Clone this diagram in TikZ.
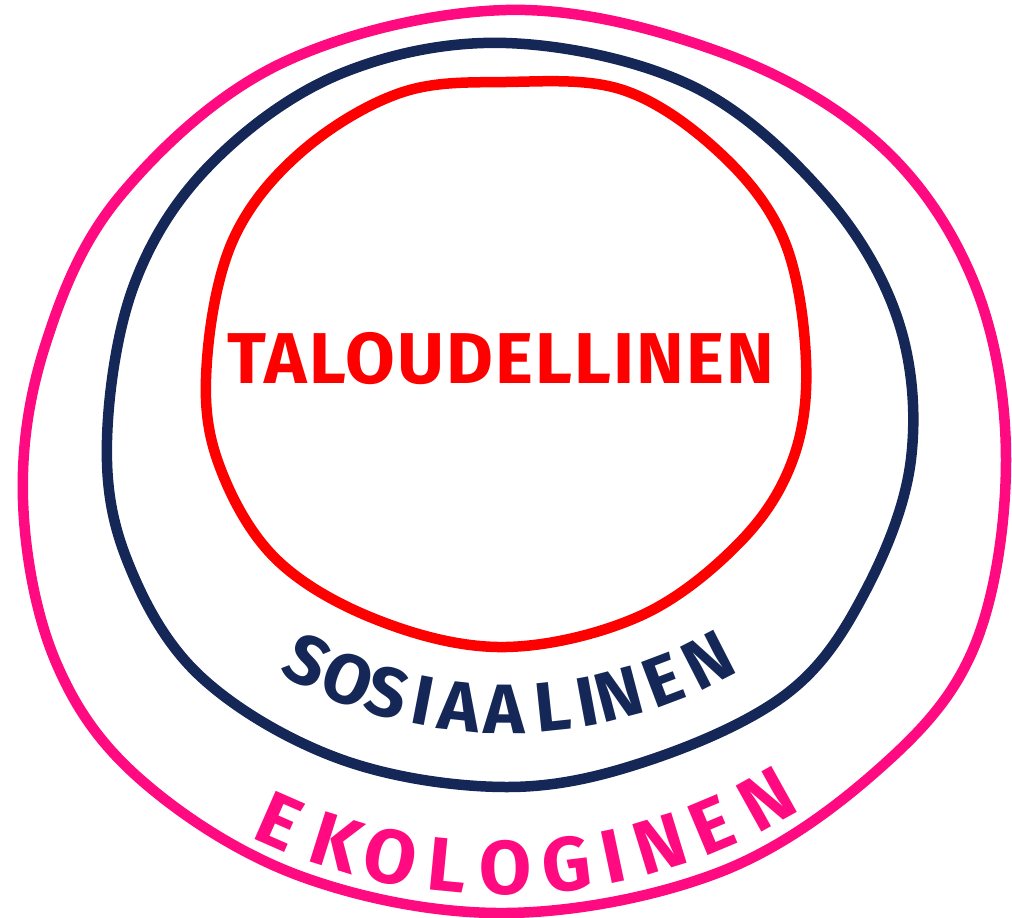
\documentclass[tikz,border=0pt]{standalone}
\usepackage{fontspec}
\setmainfont{Fira Sans}
\newfontfamily\handfont[LetterSpace=3]{Fira Sans}
\definecolor{ekopink}{HTML}{FF0A80}
\definecolor{sosnavy}{HTML}{142757}
\definecolor{talred}{HTML}{FF0000}
\tikzset{
  ring/.style={line width=10.5pt, line join=round},
  talword/.style={text=talred, font=\fontsize{72}{72}\handfont\bfseries, inner sep=0pt},
  sosletter/.style={text=sosnavy, font=\fontsize{70}{70}\selectfont\bfseries, inner sep=0pt},
  ekoletter/.style={text=ekopink, font=\fontsize{76}{76}\selectfont\bfseries, inner sep=0pt}
}

\begin{document}
\begin{tikzpicture}[x=1pt, y=-1pt]
    \useasboundingbox (0,0) rectangle (1012,918);
    % rings
    \draw[ring, ekopink] plot[smooth cycle, tension=0.6] coordinates {(506,10) (720,52) (880,145) (975,285) (1006,460) (975,645) (880,768) (720,872) (506,913) (300,876) (140,779) (55,660) (23,500) (45,346) (120,196) (280,64)};
    \draw[ring, sosnavy] plot[smooth cycle, tension=0.6] coordinates {(506,43) (690,85) (823,193) (898,320) (911,459) (866,590) (789,692) (650,760) (506,787) (340,759) (200,676) (127,560) (107,440) (134,285) (210,165) (340,74)};
    \draw[ring, talred] plot[smooth cycle, tension=0.6] coordinates {(506,82) (623,90) (720,153) (784,240) (806,360) (793,459) (740,542) (640,616) (506,647) (380,621) (275,558) (217,459) (207,360) (233,240) (300,153) (400,93)};
    % labels
    \node[talword] (tal) at (501,359) {TALOUDELLINEN};
    \coordinate (sosc) at (507,267);
    \coordinate (ekoc) at (500,320);
    \foreach \ch/\ang [count=\i] in {S/116.9, O/111.1, S/105.7, I/100.9, A/96.1, A/90.3, L/84.0, I/79.5, N/75.3, E/69.3, N/62.9}
      \node[sosletter, rotate={90-\ang}] (sos\i) at ([shift={(\ang:442)}]sosc) {\ch};
    \foreach \ch/\ang [count=\i] in {E/113.7, K/107.4, O/101.5, L/95.5, O/89.4, G/83.0, I/78.1, N/73.0, E/67.3, N/60.9}
      \node[ekoletter, rotate={90-\ang}] (eko\i) at ([shift={(\ang:548)}]ekoc) {\ch};
\end{tikzpicture}
\end{document}
